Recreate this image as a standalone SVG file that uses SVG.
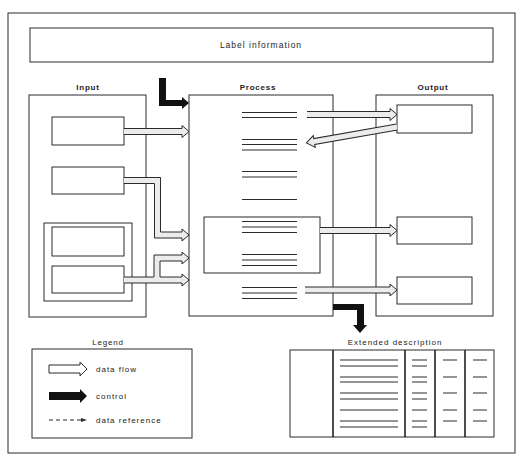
<svg xmlns="http://www.w3.org/2000/svg" width="521" height="465" viewBox="0 0 521 465">
<style>
.box{fill:none;stroke:#2b2b2b;stroke-width:1}
.ln{stroke:#2b2b2b;stroke-width:1;fill:none}
.div{stroke:#222;stroke-width:1.6}
.flow{fill:#ececec;stroke:#2b2b2b;stroke-width:1;stroke-linejoin:miter}
.ctl{fill:#111;stroke:none}
.h{font-family:"Liberation Sans",Arial,sans-serif;font-size:8px;font-weight:bold;fill:#222;text-anchor:middle;letter-spacing:0.8px}
.t{font-family:"Liberation Sans",Arial,sans-serif;font-size:8px;fill:#222;letter-spacing:1px}
</style>
<rect x="0" y="0" width="521" height="465" fill="#fff"/>
<g id="frame"><rect class="box" x="8" y="13" width="507" height="440"/></g>
<g id="label-info">
<rect class="box" x="30" y="28" width="463" height="34"/>
<text class="t" x="261" y="48" text-anchor="middle" style="font-size:8.5px">Label information</text>
</g>
<g id="input">
<text class="h" x="88" y="90">Input</text>
<rect class="box" x="29" y="95" width="117" height="222"/>
<rect class="box" x="52" y="117" width="72" height="28"/>
<rect class="box" x="52" y="167" width="72" height="27"/>
<rect class="box" x="44" y="223" width="88" height="78"/>
<rect class="box" x="52" y="227" width="72" height="29"/>
<rect class="box" x="52" y="266" width="72" height="27"/>
</g>
<g id="process">
<text class="h" x="258" y="90">Process</text>
<rect class="box" x="189" y="95" width="144" height="221"/>
<rect class="box" x="204" y="217" width="116" height="56"/>
<path class="ln" d="M242,112.5H297M242,117.5H297M242,139.5H297M242,144.5H297M242,150H297M242,171.5H297M242,177H297M242,199.5H297M242,221.5H297M242,227H297M242,232.5H297M242,254.5H297M242,260H297M242,265.5H297M242,287.5H297M242,293H297M242,298.5H297"/>
</g>
<g id="output">
<text class="h" x="433" y="90">Output</text>
<rect class="box" x="376" y="95" width="117" height="221"/>
<rect class="box" x="397" y="105" width="75" height="28"/>
<rect class="box" x="397" y="217" width="75" height="27"/>
<rect class="box" x="397" y="277" width="75" height="27"/>
</g>
<g id="connectors">
<path class="ctl" d="M159,78H166V100H182V97L189,103L182,109V106H159Z"/>
<path class="ctl" d="M333,304H364V325H367L360,333L353,325H357V310H333Z"/>
<path class="flow" d="M124,128.5H182V125.5L189,131.5L182,137.5V134.5H124"/>
<path class="flow" d="M124,177.5H160.5V232H182V229L189,235L182,241V238H154.5V183.5H124"/>
<path class="flow" d="M124,277H154V255H182V252L189,258L182,264V261H160V277H182V274L189,280L182,286V283H124"/>
<path class="flow" d="M307,111.5H390V108.5L397,114.5L390,120.5V117.5H307"/>
<path class="flow" transform="translate(397,127) rotate(170.03)" d="M0,-3H84V-6L92,0L84,6V3H0"/>
<path class="flow" d="M320,227.5H390V224.5L397,230.5L390,236.5V233.5H320"/>
<path class="flow" d="M305,287H390V284L397,290L390,296V293H305"/>
</g>
<g id="legend">
<text class="h" x="108" y="345" style="font-weight:normal">Legend</text>
<rect class="box" x="32" y="349" width="160" height="89"/>
<path d="M49,365H80V362L87,369L80,376V373H49Z" fill="#fff" stroke="#2b2b2b" stroke-width="1"/>
<text class="t" x="96" y="372">data flow</text>
<path class="ctl" d="M49,392H80V389L87,396L80,403V400H49Z"/>
<text class="t" x="96" y="399">control</text>
<path class="ln" d="M49,420H82" stroke-dasharray="4,3"/>
<path d="M81,418L87,420L81,422Z" fill="#2b2b2b"/>
<text class="t" x="96" y="423">data reference</text>
</g>
<g id="extended">
<text class="t" x="395" y="345" text-anchor="middle">Extended description</text>
<rect class="box" x="290" y="350" width="204" height="87"/>
<path class="div" d="M333,350V437M405,350V437M435,350V437M465,350V437"/>
<path class="ln" d="M340,360H398M340,366H398M340,377H398M340,382H398M340,393H398M340,399H398M340,410H398M340,421H398M340,427H398"/>
<path class="ln" d="M412,360H427M412,366H427M412,377H427M412,382H427M412,393H427M412,399H427M412,410H427M412,421H427M412,427H427"/>
<path class="ln" d="M443,360H457M443,377H457M443,393H457M443,410H457M443,421H457"/>
<path class="ln" d="M473,360H487M473,377H487M473,393H487M473,410H487M473,421H487"/>
</g>
</svg>
